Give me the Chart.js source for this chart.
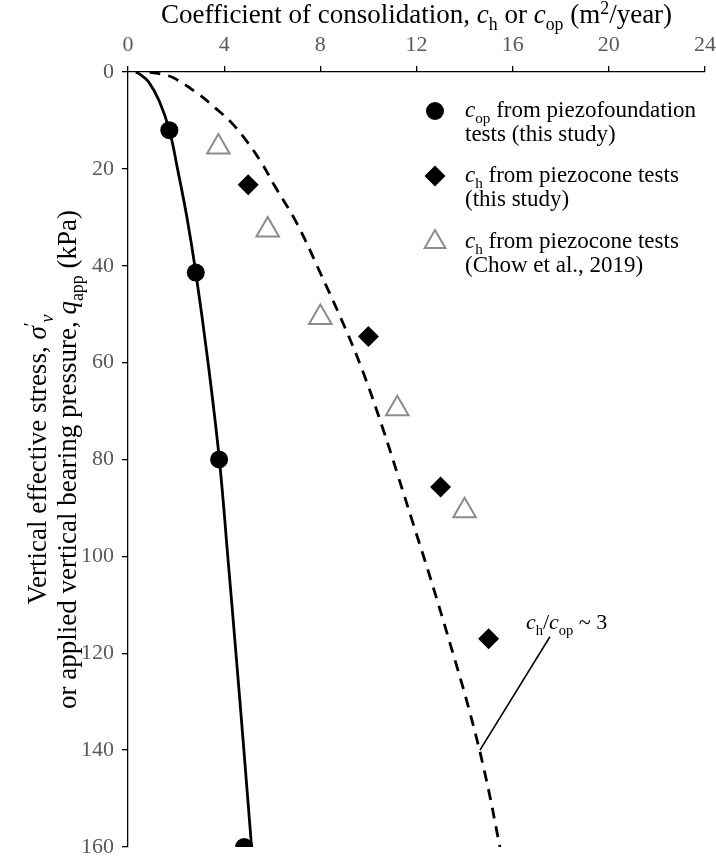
<!DOCTYPE html>
<html><head><meta charset="utf-8">
<script src="https://cdn.jsdelivr.net/npm/chart.js@4.4.0/dist/chart.umd.min.js"></script>
<style>html,body{margin:0;padding:0;background:#fff;}#wrap{width:716px;height:858px;}</style>
</head><body><div id="wrap"><canvas id="c" width="716" height="858"></canvas></div>
<script>
// ---- data ----
const xTicks = [0, 4, 8, 12, 16, 20, 24];
const yTicks = [0, 20, 40, 60, 80, 100, 120, 140, 160];

// c_op from piezofoundation tests (this study)
const copStress = [12, 41.4, 80, 160];
const copValues = [1.72, 2.82, 3.79, 4.83];

// c_h from piezocone tests (this study)
const chStudyStress = [23.3, 54.6, 85.7, 117];
const chStudyValues = [5.0, 10.0, 13.0, 15.0];

// c_h from piezocone tests (Chow et al., 2019)
const chChowStress = [15.5, 32.6, 50.7, 69.5, 90.6];
const chChowValues = [3.76, 5.81, 8.0, 11.2, 14.0];

// solid trend line (c_op)
const copTrendStress = [0, 0.5, 2, 6, 12, 20, 30, 41.4, 60, 80, 100, 120, 140, 160];
const copTrendValues = [0.33, 0.5, 0.85, 1.3, 1.72, 2.06, 2.45, 2.82, 3.33, 3.8, 4.15, 4.49, 4.82, 5.14];

// dashed trend line (c_h ~ 3 c_op)
const chTrendStress = [0, 0.5, 1.2, 4.3, 7.5, 10.5, 14.3, 18.8, 23.6, 31.2, 41.5, 52.5, 62.1, 73.9, 83.5, 93.1, 104.2, 117.9, 132.4, 146, 160];
const chTrendValues = [0.9, 1.43, 1.89, 2.86, 3.65, 4.31, 4.94, 5.56, 6.11, 7.02, 8.0, 9.0, 9.79, 10.62, 11.24, 11.85, 12.56, 13.39, 14.23, 14.9, 15.47];

// annotation "c_h/c_op ~ 3" (data units)
const annoText = { x: 16.55, y: 115 };
const annoLine = [{ x: 17.55, y: 116.6 }, { x: 14.64, y: 140 }];

// ---- styling ----
const SERIF = '"Liberation Serif", "Times New Roman", serif';
const TICK_COLOR = '#595959';
const TITLE_SIZE = 27, YTITLE_SIZE = 27, LEGEND_SIZE = 23, TICK_SIZE = 22, ANNO_SIZE = 22;

const toXY = (xs, ys) => xs.map((v, i) => ({ x: v, y: ys[i] }));

function runFont(kind, size) {
  const small = (kind === 'sub' || kind === 'isub' || kind === 'sup');
  const s = small ? size * 0.66 : size;
  const it = (kind === 'i' || kind === 'isub') ? 'italic ' : '';
  return it + s.toFixed(2) + 'px ' + SERIF;
}
function runDy(kind, size) {
  if (kind === 'sub' || kind === 'isub') return size * 0.25;
  if (kind === 'sup') return -size * 0.33;
  return 0;
}
function richWidth(ctx, runs, size) {
  let w = 0;
  for (const [t, k] of runs) { ctx.font = runFont(k, size); w += ctx.measureText(t).width; }
  return w;
}
function drawRich(ctx, runs, x, y, size, align, color) {
  ctx.save();
  ctx.fillStyle = color || '#000';
  ctx.textBaseline = 'alphabetic';
  ctx.textAlign = 'left';
  let cx = x;
  const w = richWidth(ctx, runs, size);
  if (align === 'center') cx = x - w / 2;
  for (const [t, k] of runs) {
    ctx.font = runFont(k, size);
    ctx.fillText(t, cx, y + runDy(k, size));
    cx += ctx.measureText(t).width;
  }
  ctx.restore();
  return w;
}

const xTitleRuns = [['Coefficient of consolidation, ', 'n'], ['c', 'i'], ['h', 'sub'], [' or ', 'n'], ['c', 'i'], ['op', 'sub'], [' (m', 'n'], ['2', 'sup'], ['/year)', 'n']];
const yTitle1 = [['Vertical effective stress, ', 'n'], ['\u03C3', 'i'], ['\u2032', 'sup'], ['v', 'isub']];
const yTitle2 = [['or applied vertical bearing pressure, ', 'n'], ['q', 'i'], ['app', 'sub'], [' (kPa)', 'n']];

const legendItems = [
  { style: 'circle', r: 9, fill: '#000', stroke: '#000', bw: 0, y: 111,
    lines: [[['c', 'i'], ['op', 'sub'], [' from piezofoundation', 'n']], [['tests (this study)', 'n']]] },
  { style: 'rectRot', r: 10.5, fill: '#000', stroke: '#000', bw: 0, y: 176,
    lines: [[['c', 'i'], ['h', 'sub'], [' from piezocone tests', 'n']], [['(this study)', 'n']]] },
  { style: 'triangle', r: 12, fill: 'rgba(0,0,0,0)', stroke: '#8c8c8c', bw: 2, y: 242,
    lines: [[['c', 'i'], ['h', 'sub'], [' from piezocone tests', 'n']], [['(Chow et al., 2019)', 'n']]] }
];
const annoRuns = [['c', 'i'], ['h', 'sub'], ['/', 'n'], ['c', 'i'], ['op', 'sub'], [' ~ 3', 'n']];

const decorPlugin = {
  id: 'decor',
  afterDraw(chart) {
    const ctx = chart.ctx;
    const xs = chart.scales.x, ys = chart.scales.y;
    // x title
    drawRich(ctx, xTitleRuns, (xs.left + xs.right) / 2, 23, TITLE_SIZE, 'center');
    // y title (rotated)
    const cy = (ys.top + ys.bottom) / 2;
    ctx.save(); ctx.translate(46, cy); ctx.rotate(-Math.PI / 2);
    drawRich(ctx, yTitle1, 0, 0, YTITLE_SIZE, 'center');
    ctx.restore();
    ctx.save(); ctx.translate(76, cy); ctx.rotate(-Math.PI / 2);
    drawRich(ctx, yTitle2, 0, 0, YTITLE_SIZE, 'center');
    ctx.restore();
    // legend
    for (const it of legendItems) {
      ctx.save();
      ctx.fillStyle = it.fill; ctx.strokeStyle = it.stroke; ctx.lineWidth = it.bw;
      Chart.helpers.drawPoint(ctx, { pointStyle: it.style, radius: it.r, rotation: 0, borderWidth: it.bw }, 435, it.y);
      ctx.restore();
      drawRich(ctx, it.lines[0], 465, it.y + 6, LEGEND_SIZE, 'left');
      drawRich(ctx, it.lines[1], 465, it.y + 30, LEGEND_SIZE, 'left');
    }
    // annotation
    drawRich(ctx, annoRuns, xs.getPixelForValue(annoText.x), ys.getPixelForValue(annoText.y), ANNO_SIZE, 'left');
    ctx.save();
    ctx.strokeStyle = '#000'; ctx.lineWidth = 1.6;
    ctx.beginPath();
    ctx.moveTo(xs.getPixelForValue(annoLine[0].x), ys.getPixelForValue(annoLine[0].y));
    ctx.lineTo(xs.getPixelForValue(annoLine[1].x), ys.getPixelForValue(annoLine[1].y));
    ctx.stroke();
    ctx.restore();
  }
};

new Chart(document.getElementById('c'), {
  type: 'scatter',
  data: {
    datasets: [
      { label: 'cop', data: toXY(copValues, copStress), pointStyle: 'circle', pointRadius: 9, pointBackgroundColor: '#000', pointBorderColor: '#000', pointBorderWidth: 0 },
      { label: 'ch study', data: toXY(chStudyValues, chStudyStress), pointStyle: 'rectRot', pointRadius: 10.5, pointBackgroundColor: '#000', pointBorderColor: '#000', pointBorderWidth: 0 },
      { label: 'ch Chow', data: toXY(chChowValues, chChowStress), pointStyle: 'triangle', pointRadius: 13, pointBackgroundColor: 'rgba(0,0,0,0)', pointBorderColor: '#8c8c8c', pointBorderWidth: 2 },
      { label: 'cop trend', data: toXY(copTrendValues, copTrendStress), showLine: true, pointRadius: 0, borderColor: '#000', borderWidth: 2.8, tension: 0.4, fill: false },
      { label: 'ch trend', data: toXY(chTrendValues, chTrendStress), showLine: true, pointRadius: 0, borderColor: '#000', borderWidth: 2.8, borderDash: [11, 8], tension: 0.4, fill: false }
    ]
  },
  options: {
    responsive: false,
    animation: false,
    devicePixelRatio: 1,
    layout: { autoPadding: false, padding: { top: 0, left: 0, right: 11, bottom: 11 } },
    plugins: { legend: { display: false }, tooltip: { enabled: false } },
    scales: {
      x: {
        type: 'linear', position: 'top', min: 0, max: 24,
        afterBuildTicks: s => { s.ticks = xTicks.map(v => ({ value: v })); },
        afterFit: s => { s.height = 72; s.paddingLeft = 0; s.paddingRight = 0; },
        grid: { drawOnChartArea: false, drawTicks: true, tickLength: 6, color: '#000', lineWidth: 1.3 },
        border: { display: true, color: '#000', width: 1.3 },
        ticks: { color: TICK_COLOR, font: { family: SERIF, size: TICK_SIZE }, padding: 8, maxRotation: 0 }
      },
      y: {
        type: 'linear', position: 'left', reverse: true, min: 0, max: 160,
        afterBuildTicks: s => { s.ticks = yTicks.map(v => ({ value: v })); },
        afterFit: s => { s.width = 128; s.paddingTop = 0; s.paddingBottom = 0; },
        grid: { drawOnChartArea: false, drawTicks: true, tickLength: 6, color: '#000', lineWidth: 1.3 },
        border: { display: true, color: '#000', width: 1.3 },
        ticks: { color: TICK_COLOR, font: { family: SERIF, size: TICK_SIZE }, padding: 8 }
      }
    }
  },
  plugins: [decorPlugin]
});
</script>
</body></html>
